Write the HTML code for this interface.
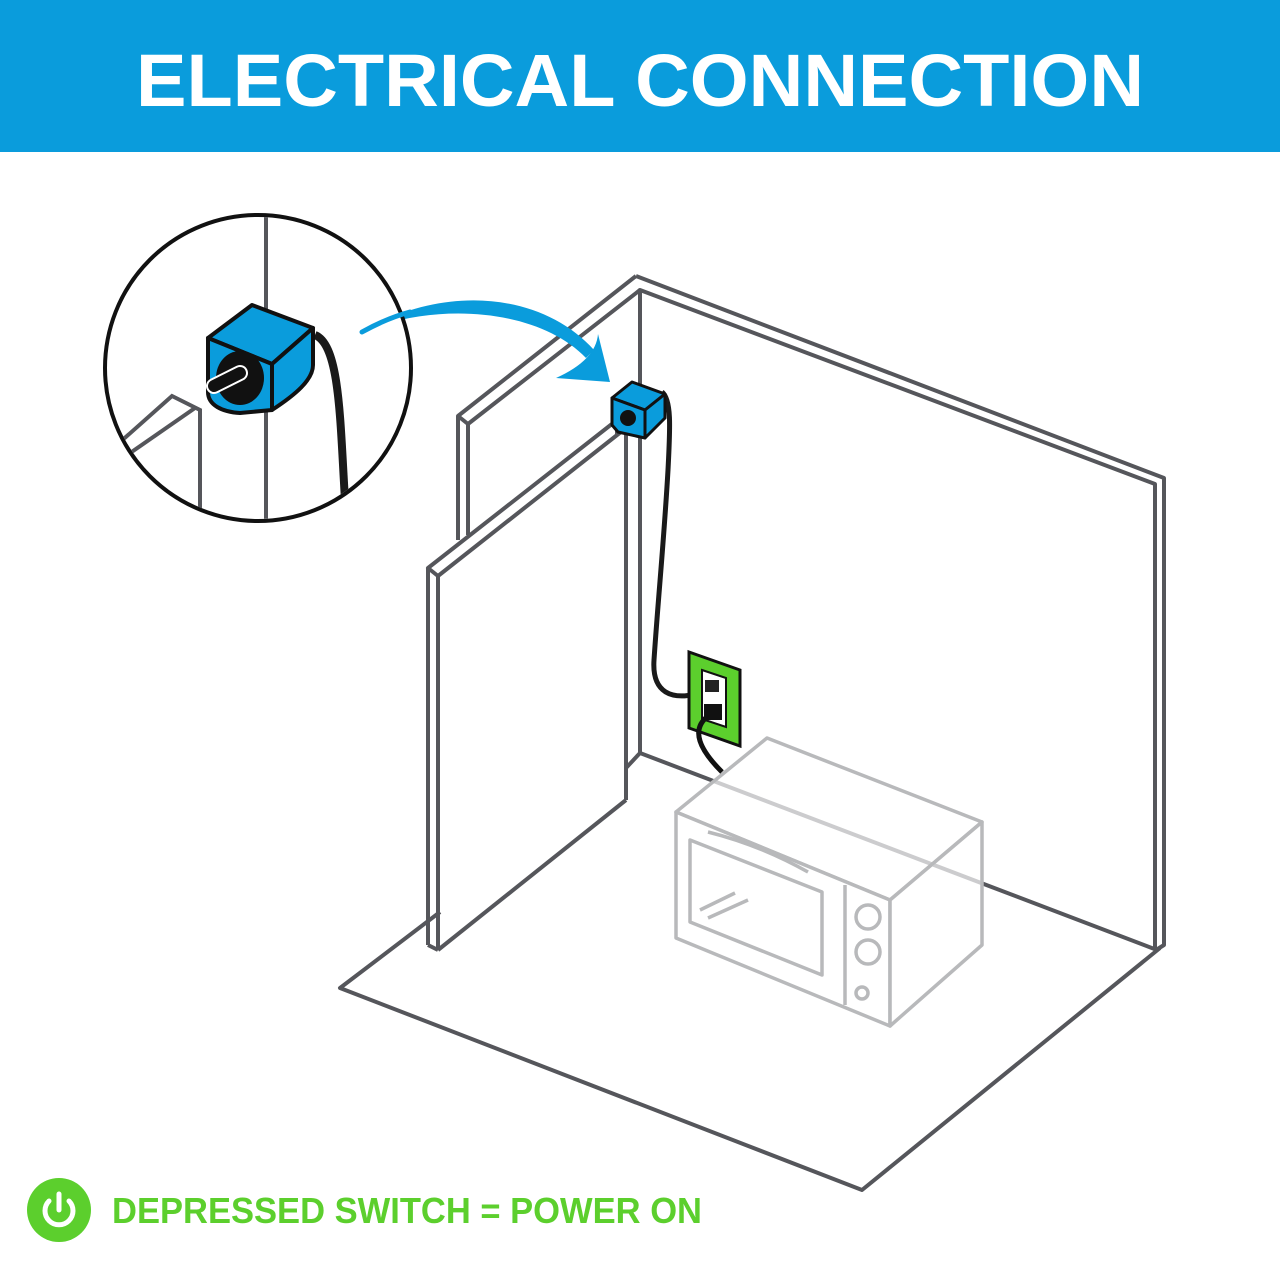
<!DOCTYPE html>
<html><head><style>
html,body{margin:0;padding:0;background:#fff;width:1280px;height:1280px;overflow:hidden}
</style></head><body>
<svg width="1280" height="1280" viewBox="0 0 1280 1280" xmlns="http://www.w3.org/2000/svg">
<rect x="0" y="0" width="1280" height="152" fill="#0a9cdc"/>
<text x="136" y="106" textLength="1008" lengthAdjust="spacingAndGlyphs" font-family="Liberation Sans, sans-serif" font-weight="bold" font-size="74" fill="#fff">ELECTRICAL CONNECTION</text>

<g fill="none" stroke="#55565b" stroke-width="4" stroke-linejoin="round">
<polyline points="440,912 340,988 862,1190 1160,948"/>
<line x1="626" y1="768" x2="640" y2="753"/>
<line x1="640" y1="753" x2="1157" y2="950"/>
<polyline points="640,753 640,290 1155,484 1155,948"/>
<polyline points="636,276 1164,478 1164,945 1156,950"/>
<polyline points="636,276 458,416 458,540"/>
<polyline points="640,290 468,424 468,535"/>
<line x1="458" y1="416" x2="468" y2="424"/>
<polygon points="428,568 617,420 626,428 438,576"/>
<line x1="438" y1="576" x2="438" y2="950"/>
<line x1="428" y1="568" x2="428" y2="945"/>
<line x1="428" y1="945" x2="438" y2="950"/>
<line x1="438" y1="950" x2="626" y2="800"/>
<line x1="626" y1="428" x2="626" y2="800"/>
<line x1="617" y1="420" x2="617" y2="434"/>
</g>

<!-- cable to outlet -->
<path d="M662,392 C672,400 670,430 668,470 C664,540 658,600 654,660 C652,690 668,705 710,690" fill="none" stroke="#1a1a1a" stroke-width="5"/>
<polygon points="689,652 740,670 740,746 689,728" fill="#5ccf2d" stroke="#111" stroke-width="3"/>
<polygon points="702,670 726,678 726,727 702,719" fill="#fff" stroke="#111" stroke-width="2"/>
<rect x="705" y="680" width="14" height="12" fill="#222"/>
<rect x="704" y="704" width="18" height="16" fill="#111"/>
<path d="M708,716 C690,730 700,750 722,772" fill="none" stroke="#111" stroke-width="5"/>

<!-- microwave -->
<g fill="#fff" fill-opacity="0.7" stroke="#b8b9bb" stroke-width="3.5" stroke-linejoin="round">
<polygon points="676,812 767,738 982,822 890,900"/>
<polygon points="676,812 890,900 890,1026 676,938"/>
<polygon points="890,900 982,822 982,945 890,1026"/>
</g>
<g fill="none" stroke="#b8b9bb" stroke-width="3.5" stroke-linejoin="round">
<polygon points="690,840 822,892 822,975 690,922"/>
<line x1="845" y1="885" x2="845" y2="1005"/>
<circle cx="868" cy="917" r="12"/>
<circle cx="868" cy="952" r="12"/>
<circle cx="862" cy="993" r="6"/>
<path d="M708,832 Q760,845 808,872"/>
<line x1="700" y1="910" x2="735" y2="893"/>
<line x1="708" y1="918" x2="748" y2="900"/>
</g>

<g stroke="#111" stroke-width="3" stroke-linejoin="round">
<polygon points="612,398 632,382 665,394 645,410" fill="#0a9cdc"/>
<polygon points="612,398 645,410 645,438 618,432 612,425" fill="#0a9cdc"/>
<polygon points="645,410 665,394 665,418 645,438" fill="#0a9cdc"/>
</g>
<circle cx="628" cy="418" r="8" fill="#111"/>

<path d="M362,332 C440,285 540,290 594,350 L586,358 C540,310 440,300 362,332Z" fill="#0a9cdc"/>
<path d="M556,378 L610,382 L598,334 Q596,360 556,378Z" fill="#0a9cdc"/>

<circle cx="258" cy="368" r="153" fill="#fff" stroke="#111" stroke-width="4"/>
<clipPath id="c"><circle cx="258" cy="368" r="151"/></clipPath>
<g clip-path="url(#c)">
<g stroke="#55565b" stroke-width="4" fill="none">
<line x1="266" y1="200" x2="266" y2="530"/>
<polyline points="100,460 172,396 200,410 200,530"/>
<line x1="120" y1="460" x2="195" y2="408"/>
</g>
<path d="M315,335 C340,345 340,420 345,500" fill="none" stroke="#1a1a1a" stroke-width="8"/>
<g stroke="#111" stroke-width="4" stroke-linejoin="round">
<polygon points="208,338 252,305 313,328 272,364" fill="#0a9cdc"/>
<path d="M208,338 L272,364 L272,410 L240,413 C222,412 208,405 208,392 Z" fill="#0a9cdc"/>
<path d="M272,364 L313,328 L313,365 C313,380 295,395 272,410 Z" fill="#0a9cdc"/>
</g>
<ellipse cx="240" cy="378" rx="24" ry="27" fill="#111"/>
<path d="M214,386 L240,373" stroke="#fff" stroke-width="16" stroke-linecap="round"/>
<path d="M214,386 L240,373" stroke="#111" stroke-width="12" stroke-linecap="round"/>
</g>
<path d="M362,332 C380,322 395,316 410,312" fill="none" stroke="#0a9cdc" stroke-width="5" stroke-linecap="round"/>

<circle cx="59" cy="1210" r="32" fill="#5ccf2d"/>
<path d="M49,1201 A14,14 0 1 0 69,1201" fill="none" stroke="#fff" stroke-width="5" stroke-linecap="round"/>
<line x1="59" y1="1194" x2="59" y2="1210" stroke="#fff" stroke-width="5" stroke-linecap="round"/>
<text x="112" y="1223" textLength="590" lengthAdjust="spacingAndGlyphs" font-family="Liberation Sans, sans-serif" font-weight="bold" font-size="36" fill="#5ccf2d">DEPRESSED SWITCH = POWER ON</text>
</svg>
</body></html>
